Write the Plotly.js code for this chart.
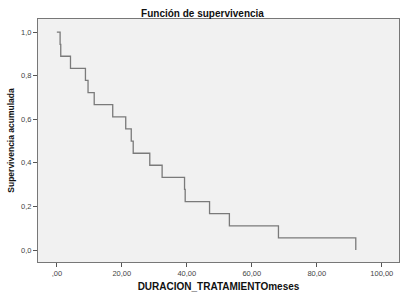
<!DOCTYPE html>
<html>
<head>
<meta charset="utf-8">
<script src="https://cdn.plot.ly/plotly-3.0.1.min.js"></script>
<style>html,body{margin:0;padding:0;background:#fff;}#chart{width:405px;height:295px;}</style>
</head>
<body>
<div id="chart"></div>
<script>
// Survival step function (Kaplan-Meier), time in months
const months = [0, 1.0, 1.2, 4.2, 8.8, 9.6, 11.5, 17.2, 21.2, 22.9, 23.5, 28.6, 32.4, 39.3, 39.5, 47.0, 53.1, 68.2, 92.0];
const survival = [1.0, 0.944, 0.889, 0.833, 0.778, 0.722, 0.667, 0.611, 0.556, 0.5, 0.444, 0.389, 0.333, 0.278, 0.222, 0.167, 0.111, 0.056, 0.0];
const xTickVals = [0, 20, 40, 60, 80, 100];
const xTickText = [",00", "20,00", "40,00", "60,00", "80,00", "100,00"];
const yTickVals = [0, 0.2, 0.4, 0.6, 0.8, 1.0];
const yTickText = ["0,0", "0,2", "0,4", "0,6", "0,8", "1,0"];

const font = "Liberation Sans, Arial, sans-serif";
const trace = {
  x: months, y: survival, type: "scatter", mode: "lines",
  line: {shape: "hv", color: "#7a7a7a", width: 1.3},
  hoverinfo: "skip"
};
const layout = {
  width: 405, height: 295,
  margin: {l: 38, r: 6, t: 19, b: 33, pad: 0},
  paper_bgcolor: "#ffffff", plot_bgcolor: "#f1f1f1",
  showlegend: false,
  title: {text: "<b>Función de supervivencia</b>", font: {family: font, size: 10, color: "#111"}, x: 0.5, xanchor: "center", y: 0.955, yanchor: "middle"},
  xaxis: {
    range: [-5.8, 105.3], tickvals: xTickVals, ticktext: xTickText,
    ticks: "outside", ticklen: 4, tickcolor: "#555", tickwidth: 1,
    showline: true, linecolor: "#777", linewidth: 1, mirror: true,
    showgrid: false, zeroline: false,
    tickfont: {family: font, size: 7.5, color: "#444"},
    title: {text: "<b>DURACION_TRATAMIENTOmeses</b>", font: {family: font, size: 10, color: "#111"}, standoff: 5}
  },
  yaxis: {
    range: [-0.055, 1.06], tickvals: yTickVals, ticktext: yTickText,
    ticks: "outside", ticklen: 4, tickcolor: "#555", tickwidth: 1,
    showline: true, linecolor: "#777", linewidth: 1, mirror: true,
    showgrid: false, zeroline: false,
    tickfont: {family: font, size: 7.5, color: "#444"},
    title: {text: "<b>Supervivencia acumulada</b>", font: {family: font, size: 8.5, color: "#111"}, standoff: 5}
  }
};
Plotly.newPlot("chart", [trace], layout, {staticPlot: true, displayModeBar: false});
</script>
</body>
</html>
